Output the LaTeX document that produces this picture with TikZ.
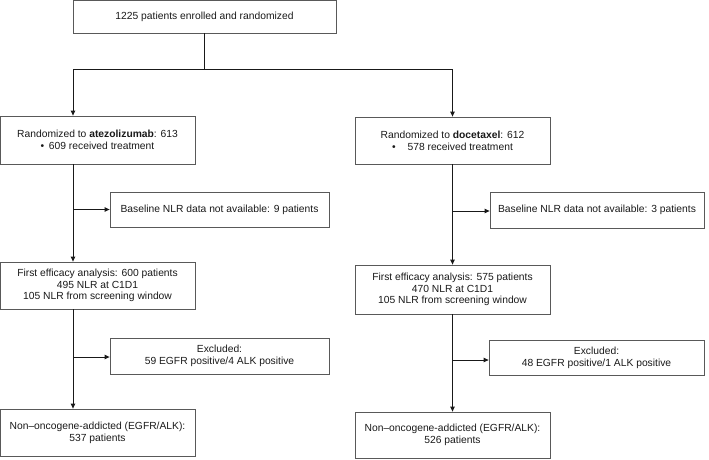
\documentclass[tikz,border=0pt]{standalone}
\usepackage{fontspec}
\setmainfont{Liberation Sans}
\usetikzlibrary{arrows.meta}
\begin{document}
\begin{tikzpicture}[x=1pt,y=-1pt,
  box/.style={draw=black!65, line width=0.8pt, rectangle, align=center, inner sep=0pt,
    font=\fontsize{10.3pt}{11.7pt}\selectfont, text=black!90},
  conn/.style={line width=0.9pt, draw=black!90},
  arr/.style={conn, -{Triangle[length=5pt,width=4.5pt]}}]
\useasboundingbox (0,0) rectangle (709,460);
% boxes
\node[box, minimum width=263pt, minimum height=33pt] (top) at (204.5,16.5) {1225 patients enrolled and randomized};
\node[box, minimum width=195pt, minimum height=48pt] (a1) at (97.5,140) {Randomized to \textbf{atezolizumab}: 613\\\textbullet\hspace{0.45em}609 received treatment};
\node[box, minimum width=195pt, minimum height=47pt] (d1) at (452.5,140.5) {Randomized to \textbf{docetaxel}: 612\\\textbullet\hspace{1.15em}578 received treatment};
\node[box, minimum width=219pt, minimum height=35pt] (a2) at (219.5,209.5) {Baseline NLR data not available: 9 patients};
\node[box, minimum width=214pt, minimum height=36pt] (d2) at (597,210) {Baseline NLR data not available: 3 patients};
\node[box, minimum width=195pt, minimum height=47pt] (a3) at (97.5,285.5) {First efficacy analysis: 600 patients\\495 NLR at C1D1\\105 NLR from screening window};
\node[box, minimum width=195pt, minimum height=49pt] (d3) at (452.5,289.5) {First efficacy analysis: 575 patients\\470 NLR at C1D1\\105 NLR from screening window};
\node[box, minimum width=219pt, minimum height=36pt] (a4) at (219.5,356) {Excluded:\\59 EGFR positive/4 ALK positive};
\node[box, minimum width=215pt, minimum height=35pt] (d4) at (596.5,357.5) {Excluded:\\48 EGFR positive/1 ALK positive};
\node[box, minimum width=195pt, minimum height=47pt] (a5) at (97.5,432.5) {Non–oncogene-addicted (EGFR/ALK):\\537 patients};
\node[box, minimum width=195pt, minimum height=46pt] (d5) at (452.5,435) {Non–oncogene-addicted (EGFR/ALK):\\526 patients};
% coordinates
\coordinate (split) at (204.5,69);
\coordinate (L) at (73,69);
\coordinate (R) at (452.5,69);
\coordinate (La) at (73,209.5);
\coordinate (Lb) at (73,357);
\coordinate (Ra) at (452.5,211);
\coordinate (Rb) at (452.5,360);
% connectors
\draw[conn] (top.south) -- (split);
\draw[arr] (split) -- (L) -- (L |- a1.north);
\draw[arr] (split) -- (R) -- (d1.north);
\draw[arr] (a1.south -| L) -- (a3.north -| L);
\draw[arr] (La) -- (La -| a2.west);
\draw[arr] (a3.south -| L) -- (a5.north -| L);
\draw[arr] (Lb) -- (Lb -| a4.west);
\draw[arr] (d1.south) -- (d3.north);
\draw[arr] (Ra) -- (Ra -| d2.west);
\draw[arr] (d3.south) -- (d5.north);
\draw[arr] (Rb) -- (Rb -| d4.west);
\end{tikzpicture}
\end{document}
